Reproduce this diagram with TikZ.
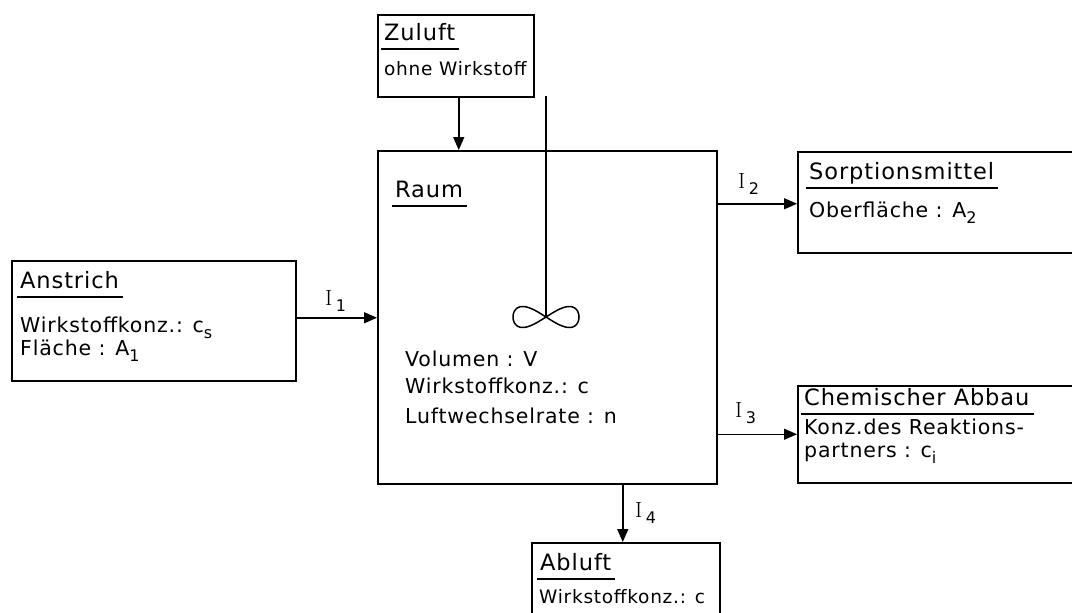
\documentclass[tikz,border=0pt]{standalone}
\usepackage{fontspec}
\usetikzlibrary{arrows.meta,calc}
\newfontfamily\lab{DejaVu Sans}[LetterSpace=4]
\newcommand\lsub[1]{\raisebox{-0.3em}{\fontsize{16}{16}\selectfont #1}}
\newcommand\Ilab[1]{{\rmfamily\fontsize{22}{22}\selectfont I}\,\lsub{#1}}
\begin{document}
\begin{tikzpicture}[x=1pt,y=-1pt,
  box/.style={draw, line width=1.5pt, inner sep=0pt, anchor=north west},
  txt/.style={anchor=base west, inner sep=0pt, font=\lab\fontsize{20.5}{20.5}\selectfont},
  small/.style={txt, font=\lab\fontsize{18.5}{18.5}\selectfont},
  ttl/.style={txt, font=\lab\fontsize{22.5}{22.5}\selectfont},
  ilab/.style={anchor=base west, inner sep=0pt, font=\lab\fontsize{20}{20}\selectfont},
  flow/.style={line width=1.5pt, -{Triangle[length=13pt,width=11pt]}},
  plain/.style={line width=1.5pt},
  ulin/.style={line width=1.3pt}]
\useasboundingbox (0,0) rectangle (1072,613);
\clip (0,0) rectangle (1072,613);
% boxes
\node[box, minimum width=156pt, minimum height=82pt]  (zul)  at (377,14)  {};
\node[box, minimum width=339pt, minimum height=333pt] (raum) at (377,150) {};
\node[box, minimum width=284pt, minimum height=120pt] (anst) at (11,260)  {};
\node[box, minimum width=288pt, minimum height=101pt] (sorp) at (797,151) {};
\node[box, minimum width=288pt, minimum height=97pt]  (chem) at (797,385) {};
\node[box, minimum width=188pt, minimum height=83pt]  (abl)  at (531,542) {};
% texts
\node[ttl] (zt) at (384,40) {Zuluft};
\node[small] (z1) at (384,75) {ohne Wirkstoff};
\node[ttl] (rt) at (395,197) {Raum};
\node[txt] (r1) at (405,366) {Volumen : V};
\node[txt] (r2) at (405,393) {Wirkstoffkonz.: c};
\node[txt] (r3) at (405,423) {Luftwechselrate : n};
\node[ttl] (at) at (20,288) {Anstrich};
\node[txt] (a1) at (20,332) {Wirkstoffkonz.: c\lsub{s}};
\node[txt] (a2) at (20,355) {Fläche : A\lsub{1}};
\node[ttl] (st) at (809,179) {Sorptionsmittel};
\node[txt] (s1) at (809,217) {Oberfläche : A\lsub{2}};
\node[ttl] (ct) at (804,405) {Chemischer Abbau};
\node[txt] (c1) at (804,434) {Konz.des Reaktions-};
\node[txt] (c2) at (804,457) {partners : c\lsub{i}};
\node[ttl] (bt) at (540,570) {Abluft};
\node[small] (b1) at (539,603) {Wirkstoffkonz.: c};
% underlines
\foreach \t in {zt,rt,at,st,ct,bt}
  \draw[ulin] ([shift={(-3,9)}]\t.base west) -- ([shift={(4,9)}]\t.base east);
% mixer
\coordinate (shafttop) at (546,96);
\coordinate (mix) at (546,317);
\draw[plain] (shafttop) -- (mix);
\draw[plain] plot[domain=0:360, samples=120, smooth cycle] ({546+33*cos(\x)},{317+21*sin(\x)*cos(\x)});
% flows
\draw[flow] ([xshift=3pt]zul.south) -- ([xshift=3pt]zul.south |- raum.north);
\path ([yshift=3pt]anst.east) coordinate (f1);
\draw[flow] (f1) -- (f1 -| raum.west);
\path ([yshift=-1.5pt]sorp.west) coordinate (f2);
\draw[flow] (f2 -| raum.east) -- (f2);
\draw[flow] (chem.west -| raum.east) -- (chem.west);
\path ([xshift=-3pt]abl.north) coordinate (f4);
\draw[flow] (f4 |- raum.south) -- (f4);
% flow labels
\node[ilab] (i1) at (325,305) {\Ilab{1}};
\node[ilab] (i2) at (738,188) {\Ilab{2}};
\node[ilab] (i3) at (735,417) {\Ilab{3}};
\node[ilab] (i4) at (635,517) {\Ilab{4}};
\end{tikzpicture}
\end{document}
